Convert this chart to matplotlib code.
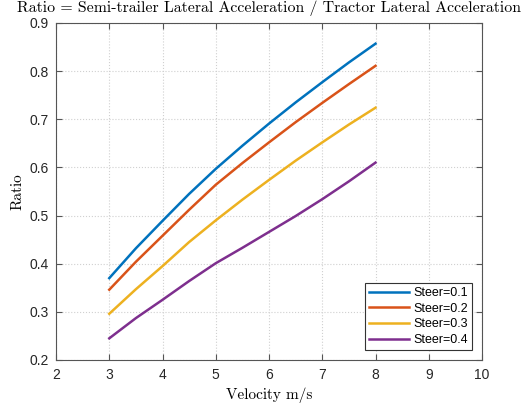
import matplotlib
matplotlib.use('Agg')
import matplotlib.pyplot as plt


# data
velocity = [3.0, 3.5, 4.0, 4.5, 5.0, 5.5, 6.0, 6.5, 7.0, 7.5, 8.0]
steer_01 = [0.370, 0.432, 0.489, 0.545, 0.597, 0.645, 0.691, 0.735, 0.777, 0.818, 0.857]
steer_02 = [0.346, 0.404, 0.458, 0.512, 0.564, 0.609, 0.652, 0.694, 0.734, 0.773, 0.811]
steer_03 = [0.296, 0.347, 0.395, 0.445, 0.490, 0.533, 0.574, 0.614, 0.652, 0.689, 0.724]
steer_04 = [0.245, 0.287, 0.325, 0.364, 0.401, 0.433, 0.466, 0.499, 0.534, 0.571, 0.610]
labels = ['Steer=0.1', 'Steer=0.2', 'Steer=0.3', 'Steer=0.4']
colors = ['#0072BD', '#D95319', '#EDB120', '#7E2F8E']

fig = plt.figure(figsize=(5.27, 4.07), dpi=100)
ax = fig.add_axes([0.1063, 0.1155, 0.8083, 0.828])

for ys, lab, c in zip([steer_01, steer_02, steer_03, steer_04], labels, colors):
    ax.plot(velocity, ys, color=c, lw=1.8, label=lab)

ax.set_xlim(2, 10)
ax.set_ylim(0.2, 0.9)
ax.set_xticks(range(2, 11))
ax.set_yticks([0.2, 0.3, 0.4, 0.5, 0.6, 0.7, 0.8, 0.9])
ax.set_yticklabels(['0.2', '0.3', '0.4', '0.5', '0.6', '0.7', '0.8', '0.9'])
ax.grid(True, color='#d0d0d0', linestyle=':', linewidth=0.8)
ax.tick_params(direction='in', top=True, right=True, length=4, color='#555555',
               labelcolor='#262626', labelsize=10)
ax.tick_params(axis='x', pad=6)
ax.tick_params(axis='y', pad=5)
for lab in ax.get_xticklabels() + ax.get_yticklabels():
    lab.set_fontfamily('Liberation Sans')
for s in ax.spines.values():
    s.set_color('#555555')
    s.set_linewidth(0.8)

ax.set_title('Ratio = Semi-trailer Lateral Acceleration / Tractor Lateral Acceleration',
             family='cmr10', fontsize=11.4, pad=8)
ax.set_xlabel('Velocity m/s', family='cmr10', fontsize=11)
ax.set_ylabel('Ratio', family='cmr10', fontsize=11)

leg = ax.legend(loc='lower right', prop={'family': 'Liberation Sans', 'size': 9},
                fancybox=False, framealpha=1, edgecolor='#333333',
                handlelength=3.2, borderaxespad=0.8, labelspacing=0.3,
                borderpad=0.3, handletextpad=0.4)
leg.get_frame().set_linewidth(0.8)

fig.savefig('out.png', dpi=100)
